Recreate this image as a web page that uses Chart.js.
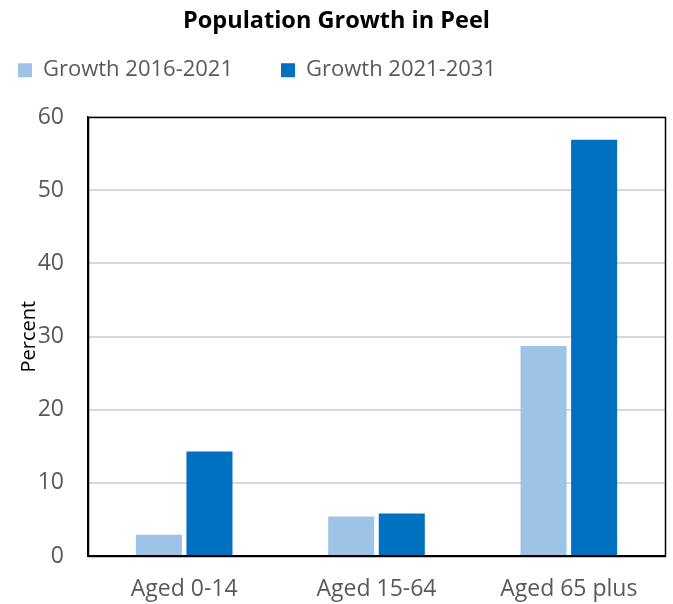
<!DOCTYPE html>
<html>
<head>
<meta charset="utf-8">
<script src="https://cdn.jsdelivr.net/npm/chart.js@4"></script>
<style>
html,body{margin:0;padding:0;background:#fff;}
#wrap{width:673px;height:604px;position:relative;}
</style>
</head>
<body>
<div id="wrap"><canvas id="c" width="673" height="604"></canvas></div>
<script>
const categories = ["Aged 0-14", "Aged 15-64", "Aged 65 plus"];
const growth2016_2021 = [2.9, 5.4, 28.7];
const growth2021_2031 = [14.3, 5.8, 56.9];
const seriesNames = ["Growth 2016-2021", "Growth 2021-2031"];
const yTicks = [0, 10, 20, 30, 40, 50, 60];

const frame = {
  id: 'frame',
  beforeInit(chart) {
    const origFit = chart.legend.fit;
    chart.legend.fit = function () {
      origFit.bind(chart.legend)();
      this.height += 26;
    };
  },
  afterLayout(chart) {
    chart.legend.left -= 38;
    chart.legend.right -= 38;
  },
  afterDraw(chart) {
    const a = chart.chartArea, ctx = chart.ctx;
    ctx.save();
    ctx.strokeStyle = '#000';
    ctx.lineWidth = 1.5;
    ctx.strokeRect(Math.round(a.left) + 0.5, Math.round(a.top) + 0.5, Math.round(a.right - a.left), Math.round(a.bottom - a.top));
    ctx.restore();
  }
};

new Chart(document.getElementById('c'), {
  type: 'bar',
  data: {
    labels: categories,
    datasets: [
      { label: seriesNames[0], data: growth2016_2021, backgroundColor: '#9dc3e6', borderWidth: 0 },
      { label: seriesNames[1], data: growth2021_2031, backgroundColor: '#0070c0', borderWidth: 0 }
    ]
  },
  options: {
    responsive: false,
    animation: false,
    layout: { padding: { left: 8, right: 8, top: 0, bottom: 0 } },
    datasets: { bar: { categoryPercentage: 0.526, barPercentage: 0.91 } },
    plugins: {
      title: {
        display: true,
        text: 'Population Growth in Peel',
        color: '#000',
        font: { family: 'Open Sans', size: 23.5, weight: 'bold' },
        padding: { top: 7, bottom: -24 }
      },
      legend: {
        align: 'start',
        labels: {
          color: '#595959',
          font: { family: 'Open Sans', size: 22 },
          boxWidth: 14, boxHeight: 14,
          padding: 48
        }
      },
      tooltip: { enabled: false }
    },
    scales: {
      x: {
        grid: { display: false, drawTicks: false },
        border: { color: '#000', width: 1.5 },
        afterFit(axis) { axis.height = 48; },
        ticks: { color: '#595959', font: { family: 'Open Sans', size: 23 }, padding: 20 }
      },
      y: {
        min: 0, max: 60,
        afterBuildTicks(axis) { axis.ticks = yTicks.map(v => ({ value: v })); },
        afterFit(axis) { axis.width = 80; },
        grid: { color: '#d9d9d9', lineWidth: 2, drawTicks: false },
        border: { color: '#000', width: 1.5 },
        ticks: { color: '#595959', font: { family: 'Open Sans', size: 23 }, padding: 24 },
        title: { display: true, text: 'Percent', color: '#000', font: { family: 'Open Sans', size: 20 }, padding: { top: 9, bottom: 0 } }
      }
    }
  },
  plugins: [frame]
});
</script>
</body>
</html>
